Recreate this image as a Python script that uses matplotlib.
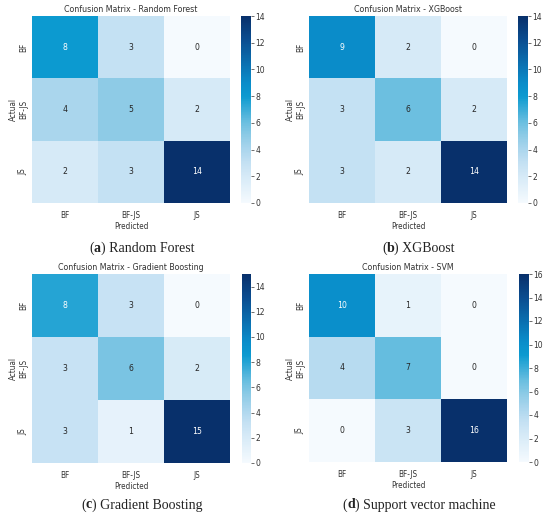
import matplotlib
matplotlib.use("Agg")
import matplotlib.pyplot as plt
from matplotlib.colors import LinearSegmentedColormap
import numpy as np
import seaborn as sns

plt.rcParams["font.family"] = "DejaVu Sans"
plt.rcParams["font.stretch"] = "condensed"

labels = ["BF", "BF-JS", "JS"]

cm_rf = [[8, 3, 0], [4, 5, 2], [2, 3, 14]]
cm_xgb = [[9, 2, 0], [3, 6, 2], [3, 2, 14]]
cm_gb = [[8, 3, 0], [3, 6, 2], [3, 1, 15]]
cm_svm = [[10, 1, 0], [4, 7, 0], [0, 3, 16]]

titles = ["Random Forest", "XGBoost", "Gradient Boosting", "SVM"]
letters = ["a", "b", "c", "d"]
captions = ["Random Forest", "XGBoost", "Gradient Boosting", "Support vector machine"]
matrices = [cm_rf, cm_xgb, cm_gb, cm_svm]

# Blues, but a bit more saturated like the picture
cmap = LinearSegmentedColormap.from_list("blues_sat", [
    (0.0, "#f5fafe"), (0.14, "#d6eaf7"), (0.21, "#c5e1f3"), (0.29, "#a9d5ed"),
    (0.36, "#8dcbe6"), (0.43, "#6bbfe0"), (0.57, "#0c9ad0"), (0.64, "#0a8dca"),
    (0.75, "#0a6fb0"), (0.875, "#0a4d90"), (1.0, "#08306b")])

W, H = 550, 519
fig = plt.figure(figsize=(W / 100, H / 100), dpi=100)
renderer = fig.canvas.get_renderer()

# pixel boxes: heatmap left, right, top, bottom ; colorbar left, right ; caption y
boxes = [
    (32, 230, 16, 203, 241, 251, 248),
    (309, 507, 16, 203, 518, 528, 248),
    (32, 230, 274, 463, 242, 251, 505),
    (309, 507, 274, 462, 519, 529, 505),
]

txt = "#333333"
for cm, title, let, cap, (l, r, t, b, cl, cr, cy) in zip(matrices, titles, letters, captions, boxes):
    ax = fig.add_axes([l / W, 1 - b / H, (r - l) / W, (b - t) / H])
    cax = fig.add_axes([cl / W, 1 - b / H, (cr - cl) / W, (b - t) / H])
    data = np.array(cm)
    sns.heatmap(data, annot=True, fmt="d", cmap=cmap, ax=ax, cbar_ax=cax,
                xticklabels=labels, yticklabels=labels,
                annot_kws={"fontsize": 6.2})
    ax.set_title("Confusion Matrix - " + title, fontsize=6.3, color=txt, pad=3)
    ax.set_xlabel("Predicted", fontsize=5.9, color=txt, labelpad=1)
    ax.set_ylabel("Actual", fontsize=5.9, color=txt, labelpad=1)
    ax.tick_params(axis="x", length=0, labelsize=5.9, labelcolor=txt, pad=6)
    ax.tick_params(axis="y", length=0, labelsize=5.9, labelcolor=txt, pad=3)
    plt.setp(ax.get_yticklabels(), rotation=90, va="center")
    cax.tick_params(labelsize=6.1, labelcolor=txt, length=2, width=0.5, color=txt, pad=1)
    cax.set_yticks(np.arange(0, data.max() + 1, 2))

    # caption "(x) Name" with bold letter
    parts = [("(", "normal"), (let, "bold"), (") " + cap, "normal")]
    objs = [fig.text(0, 1 - cy / H, s, ha="left", va="center", fontsize=10,
                     family="Liberation Serif", stretch="normal", weight=w,
                     color="#222222")
            for s, w in parts]
    widths = [o.get_window_extent(renderer).width for o in objs]
    x0 = (l + cr) / 2 - sum(widths) / 2
    for o, w in zip(objs, widths):
        o.set_x(x0 / W)
        x0 += w

fig.savefig("out.png", dpi=100)
